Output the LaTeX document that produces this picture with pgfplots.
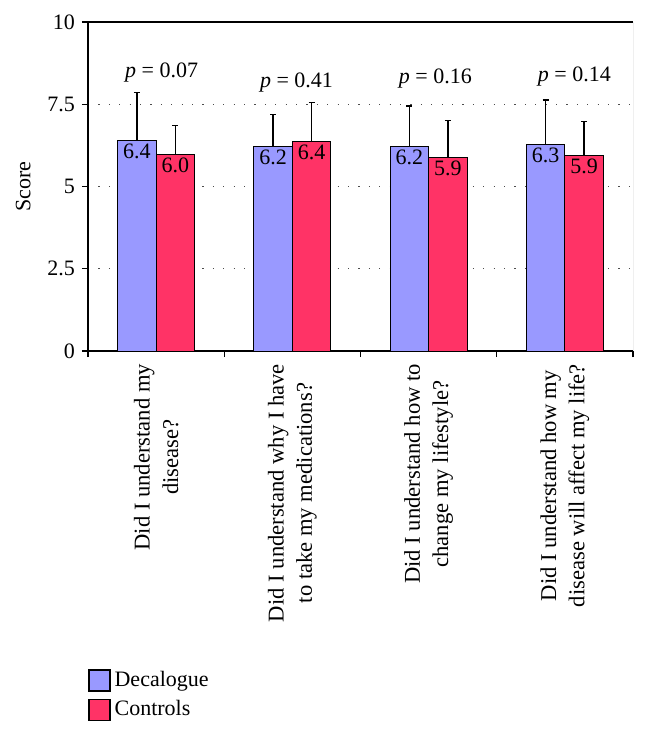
\documentclass[border=0pt]{standalone}
\usepackage{fontspec}
\setmainfont{Liberation Serif}
\usepackage{pgfplots}
\usepackage{pgfplotstable}
\pgfplotsset{compat=1.18}
\definecolor{decal}{HTML}{9999FF}
\definecolor{ctrl}{HTML}{FF3366}

\pgfplotstableread{
x dec decerr ctl ctlerr
0 6.39 1.46 5.98 0.88
1 6.21 0.98 6.36 1.20
2 6.21 1.24 5.88 1.12
3 6.29 1.34 5.94 1.03
}\scores

\begin{document}
\begin{tikzpicture}[font=\fontsize{11}{13}\selectfont]
\begin{axis}[
    scale only axis,
    width=272.5pt, height=164.5pt,
    ybar=0pt, bar width=19.25pt,
    xmin=-0.5, xmax=3.5, ymin=0, ymax=10,
    axis x line*=bottom, axis y line*=left,
    axis line style={line width=0.8pt, -},
    tick align=outside, major tick length=3pt,
    tick style={black, line width=0.6pt},
    /pgf/number format/assume math mode=true,
    ytick={0,2.5,5,7.5,10},
    ymajorgrids,
    grid style={black!70, line width=0.6pt, dash pattern=on 0.6pt off 4.6pt},
    ylabel={Score},
    ylabel style={yshift=1.5pt},
    xtick={0,1,2,3},
    xticklabels={{Did I understand my\\disease?},
        {Did I understand why I have\\to take my medications?},
        {Did I understand how to\\change my lifestyle?},
        {Did I understand how my\\disease will affect my life?}},
    xtick style={draw=none},
    xticklabel style={rotate=90, anchor=east, align=center,
        font=\fontsize{11.3}{14.2}\selectfont},
    extra x ticks={-0.5,0.5,1.5,2.5,3.5},
    extra x tick labels={},
    extra x tick style={xtick style={draw=black, line width=0.6pt}},
    nodes near coords={\pgfmathprintnumber[fixed, fixed zerofill, precision=1]{\pgfplotspointmeta}},
    every node near coord/.append style={anchor=north, inner sep=1.5pt, black},
    legend style={at={(rel axis cs:0,0)}, anchor=north west, xshift=-3pt, yshift=-156pt,
        draw=none, fill=none, row sep=1.5pt, cells={anchor=west}},
    legend image code/.code={\draw[#1, draw=black, line width=0.6pt] (0pt,-5.25pt) rectangle (10.5pt,5.25pt);},
]
\addplot[fill=decal, draw=black, line width=0.5pt,
    error bars/.cd, y dir=plus, y explicit,
    error bar style={black, line width=0.7pt},
    error mark=-,
    error mark options={rotate=90, black, mark size=1.5pt, line width=0.7pt}]
    table[x=x, y=dec, y error=decerr] {\scores};
\addplot[fill=ctrl, draw=black, line width=0.5pt,
    error bars/.cd, y dir=plus, y explicit,
    error bar style={black, line width=0.7pt},
    error mark=-,
    error mark options={rotate=90, black, mark size=1.5pt, line width=0.7pt}]
    table[x=x, y=ctl, y error=ctlerr] {\scores};
\legend{Decalogue, Controls}
\draw[black, line width=0.8pt] (rel axis cs:0,1) -- (rel axis cs:1,1);
\draw[black!50, line width=0.4pt] (rel axis cs:1,0) -- (rel axis cs:1,1);
\node at (axis cs:0.04,8.45) {\textit{p} = 0.07};
\node at (axis cs:1.03,8.15) {\textit{p} = 0.41};
\node at (axis cs:2.05,8.27) {\textit{p} = 0.16};
\node at (axis cs:3.07,8.33) {\textit{p} = 0.14};
\coordinate (bl) at (rel axis cs:0,0);
\coordinate (tr) at (rel axis cs:1,1);
\end{axis}
\pgfresetboundingbox
\path ([xshift=-44pt,yshift=-190.5pt]bl) rectangle ([xshift=7pt,yshift=11pt]tr);
\end{tikzpicture}
\end{document}
